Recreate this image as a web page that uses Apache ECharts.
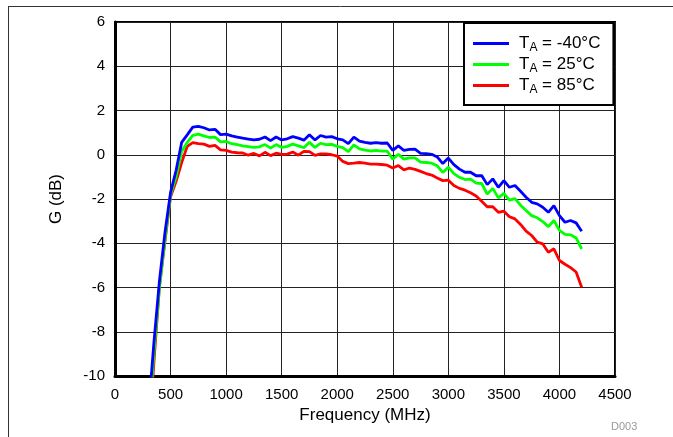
<!DOCTYPE html>
<html>
<head>
<meta charset="utf-8">
<script src="https://cdn.jsdelivr.net/npm/echarts@6/dist/echarts.min.js"></script>
<style>
html,body{margin:0;padding:0;background:#fff;}
#chart{width:673px;height:437px;}
</style>
</head>
<body>
<div id="chart"></div>
<script>
// Frequency points (MHz)
var freq = [300,350,400,450,500,550,600,650,700,750,800,850,900,950,1000,1050,1100,1150,
  1200,1250,1300,1350,1400,1450,1500,1550,1600,1650,1700,1750,1800,1850,1900,1950,2000,2050,2100,2150,2200,2250,2300,
  2350,2400,2450,2500,2550,2600,2650,2700,2750,2800,2850,2900,2950,3000,3050,3100,3150,3200,3250,
  3300,3350,3400,3450,3500,3550,3600,3650,3700,3750,3800,3850,3900,3950,4000,4050,4100,4150,4200];

// Gain (dB), TA = -40°C
var gainM40 = [-11.7,-8.5,-5.7,-3.5,-1.7,-0.7,0.56,0.9,1.25,1.28,1.22,1.12,1.15,0.91,0.93,0.85,0.8,0.75,
  0.71,0.67,0.7,0.8,0.64,0.8,0.67,0.72,0.82,0.75,0.66,0.9,0.67,0.87,0.8,0.82,0.72,0.67,0.5,0.8,0.62,0.56,0.52,
  0.55,0.52,0.53,0.2,0.4,0.2,0.24,0.25,0.06,0.05,0.02,-0.1,-0.4,-0.15,-0.45,-0.65,-0.79,-0.79,-0.95,
  -0.94,-1.35,-1.09,-1.47,-1.17,-1.47,-1.39,-1.65,-1.92,-2.15,-2.22,-2.37,-2.6,-2.3,-2.75,-3.05,-2.97,-3.08,-3.46];

// Gain (dB), TA = 25°C
var gain25 = [-12.3,-9.0,-6.0,-3.8,-1.8,-1.0,0.15,0.55,0.88,0.93,0.85,0.78,0.8,0.58,0.6,0.5,0.46,0.4,
  0.37,0.33,0.36,0.46,0.3,0.46,0.33,0.38,0.48,0.4,0.32,0.56,0.33,0.52,0.46,0.47,0.38,0.32,0.14,0.45,0.27,0.21,0.17,
  0.2,0.16,0.16,-0.2,0.02,-0.2,-0.14,-0.14,-0.33,-0.35,-0.38,-0.5,-0.8,-0.56,-0.85,-1.02,-1.12,-1.1,-1.28,
  -1.3,-1.78,-1.52,-1.95,-1.75,-2.05,-1.98,-2.28,-2.52,-2.75,-2.85,-3.02,-3.25,-2.97,-3.42,-3.6,-3.62,-3.76,-4.25];

// Gain (dB), TA = 85°C
var gain85 = [-13.2,-9.4,-5.95,-3.9,-1.9,-1.2,-0.35,0.38,0.55,0.5,0.48,0.38,0.42,0.22,0.2,0.12,0.09,0.08,
  -0.02,0.06,-0.05,0.11,-0.04,0.07,0.02,0.03,0.12,-0.02,0.15,0.14,-0.03,0.04,0.04,0.0,-0.06,-0.3,-0.4,-0.38,-0.35,-0.38,-0.42,
  -0.42,-0.44,-0.47,-0.6,-0.49,-0.68,-0.6,-0.66,-0.75,-0.85,-0.92,-1.05,-1.17,-1.15,-1.39,-1.52,-1.6,-1.72,-1.86,
  -2.1,-2.35,-2.35,-2.6,-2.55,-2.8,-2.9,-3.15,-3.45,-3.65,-3.95,-4.03,-4.41,-4.25,-4.78,-4.95,-5.1,-5.3,-5.99];

var seriesNames = ['T_A = -40°C', 'T_A = 25°C', 'T_A = 85°C'];
var legendText = {'T_A = -40°C': ' = -40°C', 'T_A = 25°C': ' = 25°C', 'T_A = 85°C': ' = 85°C'};
var colors = ['#0000ff', '#00ff00', '#ff0000'];
var xTicks = {min: 0, max: 4500, interval: 500};
var yTicks = {min: -10, max: 6, interval: 2};

function pairs(ys) { return freq.map(function (f, i) { return [f, ys[i]]; }); }

var FONT = 'Liberation Sans, Arial, sans-serif';
var chart = echarts.init(document.getElementById('chart'), null, {renderer: 'canvas'});
chart.setOption({
  animation: false,
  backgroundColor: '#fff',
  grid: {left: 115, right: 58, top: 22, bottom: 61, show: true, borderColor: '#000', borderWidth: 2, containLabel: false},
  xAxis: {
    type: 'value', min: xTicks.min, max: xTicks.max, interval: xTicks.interval,
    name: 'Frequency (MHz)', nameLocation: 'middle', nameGap: 31,
    nameTextStyle: {fontFamily: FONT, fontSize: 17, color: '#000'},
    axisLine: {show: true, onZero: false, lineStyle: {color: '#000', width: 3}},
    axisTick: {show: false},
    axisLabel: {fontFamily: FONT, fontSize: 15, color: '#000', margin: 11,
      formatter: function (v) { return String(v); }},
    splitLine: {show: true, lineStyle: {color: '#222', width: 1}}
  },
  yAxis: {
    type: 'value', min: yTicks.min, max: yTicks.max, interval: yTicks.interval,
    name: 'G (dB)', nameLocation: 'middle', nameGap: 50, nameRotate: 90,
    nameTextStyle: {fontFamily: FONT, fontSize: 17, color: '#000'},
    axisLine: {show: true, onZero: false, lineStyle: {color: '#000', width: 3}},
    axisTick: {show: false},
    axisLabel: {fontFamily: FONT, fontSize: 15, color: '#000', margin: 10,
      formatter: function (v) { return String(v); }},
    splitLine: {show: true, lineStyle: {color: '#222', width: 1}}
  },
  legend: {
    orient: 'vertical', left: 464, top: 23,
    padding: [10, 13, 9, 9], itemGap: 0, itemWidth: 36, itemHeight: 3,
    icon: 'rect',
    backgroundColor: '#fff', borderColor: '#000', borderWidth: 2,
    data: seriesNames,
    formatter: function (n) { return '{t|T}{s|A}{t|' + legendText[n] + '}'; },
    textStyle: {
      fontFamily: FONT, color: '#000', padding: [0, 0, 0, 5],
      rich: {
        t: {fontFamily: FONT, fontSize: 17, color: '#000', lineHeight: 22},
        s: {fontFamily: FONT, fontSize: 12, color: '#000', lineHeight: 22, padding: [9, 0, 0, 0]}
      }
    }
  },
  graphic: [
    {type: 'line', shape: {x1: 8, y1: 6.5, x2: 673, y2: 6.5}, style: {stroke: '#333', lineWidth: 1}, silent: true},
    {type: 'line', shape: {x1: 8.5, y1: 6, x2: 8.5, y2: 437}, style: {stroke: '#333', lineWidth: 1}, silent: true},
    {type: 'text', left: 611, top: 421, style: {text: 'D003', fontFamily: FONT, fontSize: 11, fill: '#999'}, silent: true}
  ],
  series: [
    {name: seriesNames[0], type: 'line', data: pairs(gainM40), showSymbol: false, symbol: 'none', clip: true,
      lineStyle: {color: colors[0], width: 2.8}, itemStyle: {color: colors[0]}, z: 4},
    {name: seriesNames[1], type: 'line', data: pairs(gain25), showSymbol: false, symbol: 'none', clip: true,
      lineStyle: {color: colors[1], width: 2.8}, itemStyle: {color: colors[1]}, z: 3},
    {name: seriesNames[2], type: 'line', data: pairs(gain85), showSymbol: false, symbol: 'none', clip: true,
      lineStyle: {color: colors[2], width: 2.8}, itemStyle: {color: colors[2]}, z: 2}
  ]
});
</script>
</body>
</html>
